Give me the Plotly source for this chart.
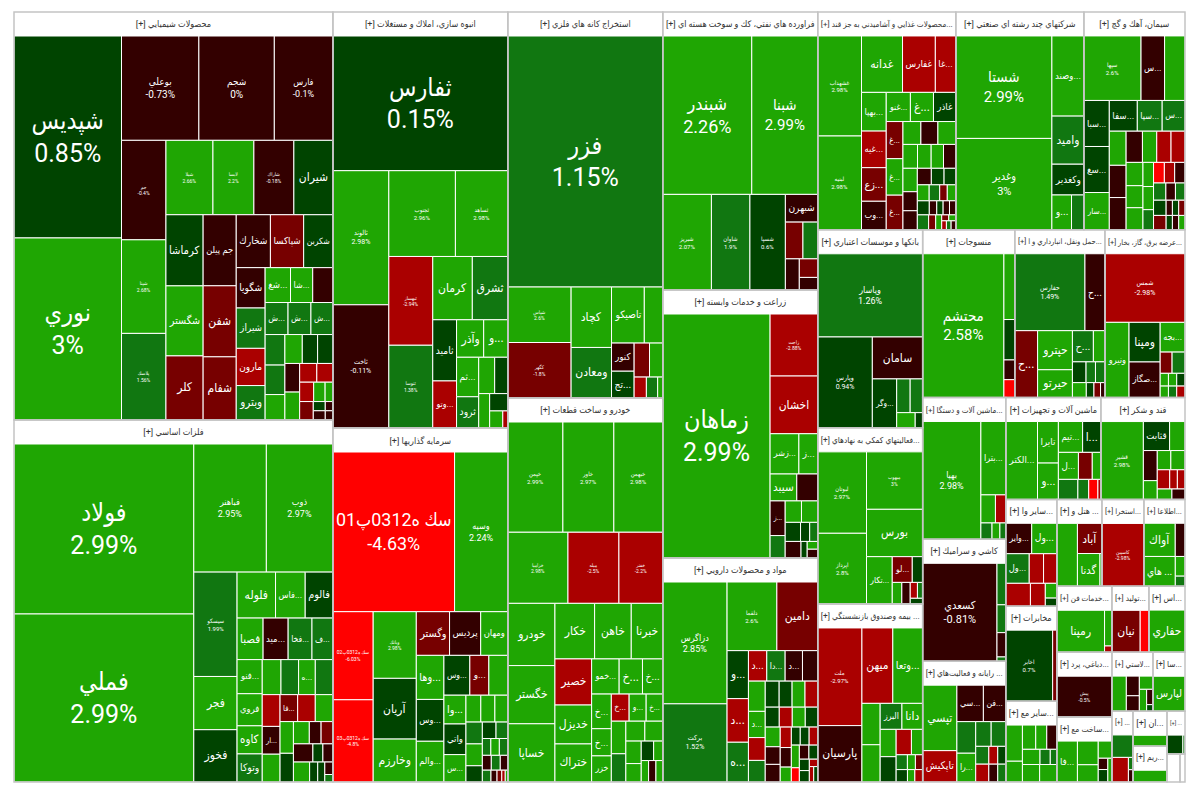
"""Tehran stock exchange market map as a Plotly treemap."""

import plotly.graph_objects as go

SECTORS = [
    "محصولات شيميايي", "فلزات اساسي", "انبوه سازي، املاك و مستغلات", "سرمايه گذاريها",
    "استخراج كانه هاي فلزي", "خودرو و ساخت قطعات", "فراورده هاي نفتي، كك و سوخت هسته اي",
    "زراعت و خدمات وابسته", "مواد و محصولات دارويي", "محصولات غذايي و آشاميدني به جز قند...",
    "شركتهاي چند رشته اي صنعتي", "سيمان، آهك و گچ", "بانكها و موسسات اعتباري",
    "فعاليتهاي كمكي به نهادهاي...", "بيمه وصندوق بازنشستگي ...", "منسوجات",
    "حمل ونقل، انبارداري و ا...", "عرضه برق، گاز، بخار...", "ماشين آلات و دستگا...",
    "كاشي و سراميك", "رايانه و فعاليت‌هاي ...", "ماشين آلات و تجهيزات", "قند و شكر",
    "ساير وا...", "مخابرات", "ساير مع...", "هتل و ...", "خدمات فن...", "استخرا...",
    "دباغي، پرد...", "ساخت مع...", "اطلاعا...", "توليد...", "لاستي...", "اس...", "سا...",
    "...", "ريم...", "ان...", "...", "", "",
]
SECTOR_SIZES = [
    130150, 115480, 72800, 61950, 59830, 59520, 43090, 41540, 34720, 30080, 27900, 22020,
    20790, 18480, 18690, 15460, 15120, 13440, 11790, 10130, 10040, 9690, 8570, 5460, 4850,
    4130, 3915, 3630, 3650, 3575, 3575, 3570, 2440, 2420, 2380, 1890, 1490, 1220, 1190, 770, 364, 140,
]
HEADER_SIZES = [
    7660, 7660, 4200, 4200, 3720, 3720, 3720, 3720, 3720, 3310, 3070, 2420, 2520, 2520, 2520, 2210, 2160, 1920,
    1990, 1990, 1990, 2280, 2020, 1220, 1220, 1220, 1080, 1320, 1010, 1320, 1320, 980, 890, 980, 860, 770,
    500, 820, 820, 430, 0, 0,
]

LABELS = [
    ["شپديس", "نوري", "بوعلي", "شجم", "فارس", "جم", "شپنا", "پلاسك", "شيلا", "لابسا", "شاراك", "شيران",
     "كرماشا", "شگستر", "كلر", "جم پيلن", "شفن", "شفام", "شخارك", "شپاكسا", "شكربن", "شگويا", "شيراز",
     "مارون", "وبترو", "شغ...", "شا...", "", "ش...", "ش...", "ش...", "", "", "", "", "", "", "", "",
     "", "", "", "", "", "", "", "", "", ""],
    ["فولاد", "فملي", "فباهنر", "ذوب", "سيسكو", "فجر", "فخوز", "فلوله", "فاس...", "فالوم", "فصبا",
     "ميد...", "فخا...", "ف...", "فنو...", "فروي", "كاوه", "وتوكا", "", "", "ه...", "", "", "ار...", "",
     "فا...", "", "", "", "", "", "", "", "", "", "", "", "", "", "", ""],
    ["ثفارس", "ثالوند", "ثاخت", "ثجنوب", "ثساهد", "ثبهساز", "ثنوسا", "كرمان", "ثشرق", "ثاميد", "وتو...",
     "وآذر", "و...", "ثم...", "ثرود", "", "", "", "", "", ""],
    ["سك ه0312پ01", "وسپه", "سك ه0312پ02", "سك ه0312پ03", "وبانك", "آريان", "وخارزم", "وگستر", "پرديس",
     "ومهان", "وها...", "وس...", "والم...", "وس...", "و...", "", "وا...", "واتي", "س...", "", "", "", "",
     "", "", "", "", "", "", "", "", "", "", "", "", "", "", ""],
    ["فزر", "شپاس", "كگهر", "كچاد", "ومعادن", "تاصيكو", "", "كنور", "تج...", "", "", "", "", ""],
    ["خپمن", "خاور", "خبهمن", "خزاميا", "ميله", "خفنر", "خودرو", "خگستر", "خساپا", "خكار", "خاهن", "خبرنا",
     "خصير", "خديزل", "ختراك", "خمو...", "خ...", "خ...", "خ...", "خ...", "خزر", "خ...", "و...", "خ...",
     "", "", "", "", "", "", "", "", "", "", ""],
    ["شبندر", "شبنا", "شبريز", "شاوان", "شسپا", "شبهرن", "", "", "", "", ""],
    ["زماهان", "زاجت", "اخشان", "زشر...", "ز...", "سيبد", "", "ز...", "", "", "", "", "", "", "", "", "", ""],
    ["دزاگرس", "بركت", "دلقما", "دامين", "و...", "د...", "ه...", "د...", "دا...", "د...", "", "", "د...",
     "", "", "", "", "", "", "", "", "", "", "", "", "", "", "", "", "", "", "", "", "", "", "", "", "",
     "", "", ""],
    ["غشهداب", "لبنيه", "غدانه", "غفارس", "غا...", "بهپا...", "غنو...", "غ...", "غاذر", "غيه...", "زع...",
     "وب...", "غ...", "غ...", "غ...", "", "", "", "", "", "", "", "", "", "", "", "", "", "", "", "", "",
     "", "", "", "", "", "", "", "", "", "", "", "", ""],
    ["شستا", "وغدير", "وصند...", "واميد", "وكغدير", "و...", ""],
    ["سپها", "س...", "", "سبا...", "سغ...", "سار...", "سفا...", "سپا...", "س...", "", "", "", "", "", "",
     "", "", "", "", "", "", "", "", "", "", "", "", "", "", "", "", "", "", "", "", ""],
    ["وپاسار", "وپارس", "سامان", "وگر...", "", "", "", ""],
    ["لبوتان", "اپرداز", "ميهوب", "بورس", "تكار...", "لو...", "", "", "", "", "", ""],
    ["ملت", "پارسيان", "ميهن", "وتعا...", "", "", "البرز", "دانا", "", "", "", "", "", "", "", "", "", ""],
    ["محتشم", "", "", "", ""],
    ["حفارس", "ح...", "ح...", "حپترو", "حيرتو", "ح...", "", "", "", "", "", "", "", ""],
    ["شمس", "ونيرو", "ومپنا", "صگاز...", "بجه...", "", "", "", "", "", "", "", ""],
    ["بهپا", "بترا...", "", "", "", "", ""],
    ["كسعدي", "", "", "", ""],
    ["تپسي", "تاپكيش", "سي...", "فن...", "", "", "", "را...", "", "", "", "", "", ""],
    ["الكتر...", "تايرا", "و...", "تيم...", "ا...", "ل...", "", "", "", "", "", ""],
    ["قشير", "قثابت", "", "", "", "", "", "", "", "", "", ""],
    ["واير...", "ول...", "ول...", "", "", "", "", "", ""],
    ["اخابر", ""],
    ["", "", "", "", "", "", "", "", "", ""],
    ["", "آباد", "گدنا", ""],
    ["رمپنا", "", ""],
    ["كاسپين"],
    ["پيش"],
    ["فا...", "", "", "", "", "", ""],
    ["آواك", "هاي ...", "", "", ""],
    ["نيان", ""],
    ["", "", "", "", "", "", ""],
    ["حفاري"],
    ["لپارس"],
    ["", "", "", ""],
    [""],
    [""],
    ["", ""],
    [""],
    [""],
]

CHANGES = [
    [0.85, 3, -0.73, 0, -0.1, -0.4, 2.68, 1.56, 2.66, 2.2, -0.18, 0.5, 0.5, 2.5, -1.5, -0.5, -1.5, -1.5, -0.5,
     -1.5, 0.5, -0.5, 1.5, -2.5, 1.5, 2.5, 2.5, -0.5, 1.5, 1.5, 1.5, 1.5, 1.5, 2.5, 2.5, 0.5, 0.5, -0.5, 2.5,
     -2.5, -2.5, -2.5, 2.5, 2.5, -1.5, 0.5, -0.5, -0.5, -0.5],
    [2.99, 2.99, 2.95, 2.97, 1.99, 2.5, 0.5, 2.5, 2.5, 0.5, 2.5, -0.5, 1.5, 1.5, 2.5, 2.5, 2.5, 1.5, 2.5, 1.5,
     2.5, 1.5, -2.5, -0.5, 2.5, -1.5, -2.5, 2.5, 2.5, 0.5, 2.5, -0.5, -1.5, -0.5, 0.5, -0.5, 2.5, 0.5, 0.5, -0.5, 1.5],
    [0.15, 2.98, -0.11, 2.96, 2.98, -2.94, 1.38, 2.5, 1.5, 0.5, -2.5, 2.5, 2.5, 2.5, 1.5, 2.5, 0.5, 2.5, 0.5, 2.5, -2.5],
    [-4.63, 2.24, -6.03, -4.8, 2.98, 0.5, 2.5, -1.8, -0.5, 2.5, 2.5, 0.5, 2.5, 0.5, -1.5, 2.5, 2.5, 0.5, 2.5, 2.5,
     2.5, 2.5, 1.5, 2.5, 0.5, 0.5, 1.5, 1.5, 2.5, 1.5, -0.5, 1.5, -0.5, 1.5, -0.5, -1.5, -2.5, 2.5],
    [1.15, 2.6, -1.8, 2.5, 1.5, 2.5, 2.5, -0.5, 0.5, -1.5, 2.5, -2.5, 1.5, 2.5],
    [2.99, 2.97, 2.98, 2.98, -2.5, -2.2, 2.5, 2.5, 2.5, 2.5, 2.5, 2.5, -2.5, 2.5, 2.5, 2.5, 2.5, 2.5, 2.5, 2.5,
     2.5, -2.5, 2.5, 2.5, 2.5, 1.5, 2.5, 2.5, 2.5, 2.5, 0.5, 2.5, 2.5, -0.5, 2.5],
    [2.26, 2.99, 2.07, 1.9, 0.6, -0.5, -1.5, 1.5, -0.5, -1.5, -0.5],
    [2.99, -2.88, -2.5, 2.5, 2.5, 2.5, -0.5, -0.5, 2.5, 2.5, 1.5, 0.5, 0.5, 1.5, -0.5, 0.5, 2.5, -0.5],
    [2.85, 1.52, 2.6, -1.5, 0.5, -2.5, 1.5, -2.5, 1.5, -0.5, -0.5, 2.5, 2.5, -2.5, 1.5, 0.5, 0.5, 2.5, -2.5, 0.5,
     -2.5, 2.5, 0.5, 2.5, -2.5, -0.5, -0.5, -0.5, 2.5, 0.5, 0.5, -2.5, 2.5, -0.5, 0.5, -4, 0.5, 0.5, -2.5, -2.5, 0.5],
    [2.98, 2.98, 2.5, -2.5, -2.5, 2.5, 2.5, 2.5, 0.5, -2.5, -1.5, -0.5, -1.5, 2.5, -1.5, 2.5, -0.5, 2.5, 2.5, 2.5,
     2.5, -0.5, 2.5, -0.5, -0.5, -0.5, 0.5, 0.5, 2.5, 1.5, -1.5, 2.5, 0.5, -0.5, 0.5, -0.5, -0.5, 1.5, -1.5, 2.5,
     -1.5, 2.5, -2.5, 1.5, -0.5],
    [2.99, 3, 2.5, 1.5, 0.5, 2.5, 1.5],
    [2.6, -0.5, 2.5, 0.5, 0.5, 2.5, 0.5, 1.5, 1.5, 2.5, -0.5, -0.5, -0.5, 2.5, -2.5, -2.5, 2.5, 2.5, 2.5, 2.5, 2.5,
     1.5, -4, -2.5, -0.5, 1.5, -0.5, 1.5, 0.5, -0.5, 0.5, -1.5, -1.5, 0.5, -0.5, 2.5],
    [1.26, 0.94, -0.5, 0.5, 1.5, 1.5, 2.5, 0.5],
    [2.97, 2.8, 3, 2.5, 2.5, -1.5, 0.5, 2.5, -0.5, -2.5, 1.5, 0.5],
    [-2.97, -0.5, -2.5, 2.5, 2.5, 2.5, 1.5, 2.5, 2.5, -2.5, 2.5, 0.5, 1.5, 2.5, -1.5, 0.5, 2.5, -2.5],
    [2.58, 2.5, 0.5, -0.5, -4],
    [1.49, -0.5, -1.5, 2.5, 2.5, 1.5, 2.5, 0.5, 1.5, 1.5, 2.5, 0.5, -1.5, -0.5],
    [-2.98, 2.5, 0.5, -0.5, 2.5, -1.5, 1.5, 2.5, 2.5, 0.5, 2.5, 1.5, -2.5],
    [2.98, 2.5, 2.5, -2.5, 1.5, 2.5, 1.5],
    [-0.81, 1.5, 1.5, -0.5, 1.5],
    [2.5, -2.5, -0.5, -0.5, 1.5, 1.5, 1.5, 2.5, 1.5, -2.5, 0.5, -2.5, -0.5, 1.5],
    [2.5, 2.5, 2.5, 2.5, 0.5, 2.5, -1.5, 2.5, 1.5, 1.5, -4, -2.5],
    [2.98, 0.5, 2.5, -0.5, 2.5, 2.5, 2.5, -2.5, -2.5, -2.5, 2.5, -0.5],
    [-0.5, 2.5, 1.5, -2.5, -2.5, -2.5, -2.5, 2.5, 0.5],
    [0.7, -1.5],
    [2.5, 2.5, 2.5, 2.5, -0.5, 2.5, 1.5, 1.5, 2.5, 2.5],
    [2.5, -1.5, 2.5, 2.5],
    [2.5, 2.5, -2.5],
    [-2.98],
    [-0.5],
    [2.5, 2.5, 2.5, 2.5, -0.5, 0.5, 2.5],
    [2.5, 2.5, -0.5, 2.5, 1.5],
    [-1.5, -4],
    [2.5, -0.5, -0.5, 2.5, 2.5, -0.5, 0.5],
    [2.5],
    [2.5],
    [1.5, -2.5, 1.5, -0.5],
    [2.5],
    [2.5],
    [0.5, 1.5],
    [None],
    [None],
]

WEIGHTS = [
    [21600, 19470, 8030, 7830, 6080, 4400, 4140, 3830, 3480, 3030, 2960, 2890, 2630, 2590, 2370, 2340, 2340, 2080,
     1800, 1750, 1540, 1160, 1160, 1070, 990, 880, 770, 700, 730, 730, 700, 600, 580, 500, 500, 440, 440, 420, 410,
     320, 300, 270, 220, 150, 250, 110, 70, 110, 70],
    [30250, 29900, 9200, 8440, 4470, 2280, 2240, 1750, 1350, 1260, 1070, 1030, 980, 860, 850, 800, 700, 700, 650, 610,
     580, 610, 560, 490, 490, 470, 470, 470, 420, 380, 350, 260, 260, 350, 180, 180, 320, 160, 140, 100, 60],
    [23150, 7370, 6770, 5610, 4420, 3830, 3570, 2460, 2210, 1430, 1100, 1000, 890, 860, 680, 570, 470, 370, 310, 220, 85],
    [19000, 8320, 3470, 3240, 2810, 2560, 1810, 1420, 1330, 1160, 1190, 1130, 1100, 1010, 740, 740, 620, 660, 590, 390,
     370, 340, 350, 350, 260, 220, 190, 140, 140, 140, 130, 130, 110, 100, 70, 55, 40, 30],
    [37900, 3420, 3420, 2380, 1990, 1790, 1010, 620, 590, 510, 440, 250, 230, 105],
    [5780, 5350, 5140, 4070, 3450, 2970, 2790, 2610, 2610, 2100, 1940, 1670, 1610, 1360, 1330, 920, 780, 680, 650, 510,
     490, 460, 440, 430, 450, 390, 360, 340, 330, 270, 230, 170, 150, 150, 140],
    [13970, 10360, 4610, 3650, 3360, 890, 640, 540, 430, 340, 230],
    [25500, 2880, 2680, 1130, 740, 700, 550, 510, 340, 340, 330, 285, 170, 150, 255, 100, 80, 90],
    [7560, 4850, 3300, 2710, 990, 900, 820, 540, 540, 510, 450, 490, 425, 370, 350, 350, 325, 325, 320, 270, 250, 250,
     240, 285, 220, 255, 255, 210, 160, 155, 155, 150, 175, 130, 120, 110, 110, 110, 60, 65, 60],
    [4160, 3900, 2200, 1760, 1100, 910, 670, 640, 620, 860, 790, 670, 590, 580, 550, 390, 370, 390, 330, 310, 280, 280,
     320, 260, 260, 220, 200, 185, 180, 160, 115, 130, 160, 100, 85, 85, 85, 160, 100, 85, 40, 40, 40, 40, 40],
    [9590, 8550, 2500, 1500, 960, 665, 420],
    [3470, 1430, 1240, 1100, 1100, 890, 810, 720, 660, 540, 510, 510, 480, 420, 420, 410, 370, 350, 350, 240, 230, 200,
     210, 200, 200, 200, 155, 155, 180, 90, 90, 90, 170, 85, 85, 85],
    [8060, 4580, 1950, 1100, 420, 390, 260, 105],
    [3850, 3340, 3130, 2580, 1180, 500, 260, 200, 175, 110, 80, 70],
    [4000, 2310, 2160, 2090, 700, 630, 525, 500, 405, 360, 265, 375, 155, 110, 100, 130, 85, 90],
    [11400, 700, 430, 210, 190],
    [4960, 1410, 1400, 1250, 890, 600, 330, 260, 180, 180, 190, 105, 90, 60],
    [5210, 1720, 1170, 1050, 700, 240, 260, 100, 100, 100, 90, 90, 90],
    [6380, 1700, 380, 270, 170, 120, 90],
    [6980, 350, 235, 205, 36],
    [2110, 1010, 910, 770, 560, 360, 340, 510, 220, 150, 135, 220, 150, 135],
    [2280, 800, 700, 690, 520, 500, 345, 215, 360, 200, 170, 55],
    [3040, 700, 410, 385, 240, 250, 240, 220, 135, 135, 140, 125],
    [670, 650, 590, 360, 335, 480, 290, 145, 80],
    [2880, 260],
    [540, 310, 290, 240, 220, 240, 140, 90, 270, 270],
    [1120, 640, 640, 55],
    [1750, 230, 40],
    [2350],
    [2060],
    [750, 440, 210, 320, 95, 105, 90],
    [900, 810, 280, 165, 85],
    [1120, 345],
    [365, 185, 145, 130, 115, 70, 30],
    [1470],
    [840],
    [420, 360, 50, 50],
    [330],
    [330],
    [270, 36],
    [364],
    [140],
]

# tickers whose change is printed under the name
PCT_SHOWN = [
    "شپديس", "نوري", "بوعلي", "شجم", "فارس", "جم", "شپنا", "پلاسك", "شيلا", "لابسا", "شاراك", "فولاد", "فملي", "فباهنر",
    "ذوب", "سيسكو", "ثفارس", "ثالوند", "ثاخت", "ثجنوب", "ثساهد", "ثبهساز", "ثنوسا", "سك ه0312پ01", "وسپه", "سك ه0312پ02",
    "سك ه0312پ03", "وبانك", "فزر", "شپاس", "كگهر", "خپمن", "خاور", "خبهمن", "خزاميا", "ميله", "خفنر", "شبندر", "شبنا",
    "شبريز", "شاوان", "شسپا", "زماهان", "زاجت", "دزاگرس", "بركت", "دلقما", "غشهداب", "لبنيه", "شستا", "وغدير", "سپها",
    "وپاسار", "وپارس", "لبوتان", "اپرداز", "ميهوب", "ملت", "محتشم", "حفارس", "شمس", "بهپا", "كسعدي", "قشير", "اخابر",
    "كاسپين", "پيش",
]

FONT_SIZES = {
    25: ["شپديس", "نوري", "فولاد", "فملي", "ثفارس", "فزر", "زماهان", "سك ه0312پ01"],
    18: ["شبندر"], 15: ["شبنا", "شستا", "محتشم"], 11: ["وغدير", "كسعدي"], 10: ["بوعلي", "شجم"],
    9: ["فارس", "فباهنر", "ذوب", "دزاگرس", "وسپه", "بهپا", "وپاسار"],
    7: ["ثالوند", "ثاخت", "شمس", "حفارس", "بركت", "وپارس"],
    6: ["ثجنوب", "ثساهد", "خپمن", "خاور", "خبهمن", "شبريز", "شاوان", "شسپا", "غشهداب", "لبنيه", "لبوتان", "اپرداز", "ملت",
        "قشير", "اخابر", "سپها", "دلقما", "سيسكو"],
    5: ["جم", "شپنا", "پلاسك", "شيلا", "لابسا", "شاراك", "ثبهساز", "ثنوسا", "سك ه0312پ02", "سك ه0312پ03", "وبانك", "شپاس",
        "كگهر", "خزاميا", "ميله", "خفنر", "زاجت", "ميهوب", "كاسپين", "پيش"],
}
SIZE_OF = {name: size for size, names in FONT_SIZES.items() for name in names}
FONT = "Roboto, DejaVu Sans Condensed, DejaVu Sans"


def h(*kids):
    return ("h", kids)


def v(*kids):
    return ("v", kids)


def nest(kind, *levels):
    """Each level holds its own cells and then the next level, direction flips per level."""
    kinds = [kind if i % 2 == 0 else ("v" if kind == "h" else "h") for i in range(len(levels))]
    node = None
    for level_kind, level in zip(reversed(kinds), reversed(levels)):
        kids = list(level) + ([node] if node is not None else [])
        node = (level_kind, tuple(kids))
    return node


# how the cells of each sector nest, same order as SECTORS
SPLITS = [
    nest("h", [v(0, 1)], [h(2, 3, 4)], [v(5, 6, 7)], [h(8, 9, 10, 11)], [v(12, 13, 14), v(15, 16, 17)], [h(18, 19, 20)],
         [v(21, 22, 23, 24)], [h(25, 26, 27), h(28, 29, 30)], [v(31, 32, 33)], [h(34, 35, 36)], [v(37, 38)],
         [h(39, 40), h(41, 42, 43)], [44], [h(45, 46), h(47, 48)]),
    nest("h", [v(0, 1)], [h(2, 3)], [v(4, 5, 6)], [h(7, 8, 9), h(10, 11, 12, 13)], [v(14, 15, 16, 17)],
         [h(18, 19, 20, 21)], [v(22, 23, 24)], [h(25, 26, 27)], [v(28, 29)],
         [h(30, 31, 32), h(33, 34, 35), h(36, 37, 38, v(39, 40))]),
    nest("v", [0], [v(1, 2)], [h(3, 4)], [v(5, 6)], [h(7, 8)], [v(9, 10)], [h(11, 12)], [v(13, 14)], [h(15, 16)], [17],
         [18, h(19, 20)]),
    nest("v", [h(0, 1)], [v(2, 3), v(4, 5, 6)], [h(7, 8, 9)], [v(10, 11, 12)], [h(13, 14, 15)], [v(16, 17, 18)],
         [h(19, 20, 21)], [v(22, 23, 24)], [h(25, 26), h(27, 28, 29), h(30, 31, 32), h(33, 34, 35, 36, 37)]),
    nest("v", [0], [v(1, 2), v(3, 4)], [h(5, 6)], [v(7, 8)], [h(9, 10), h(11, 12, 13)]),
    nest("v", [h(0, 1, 2), h(3, 4, 5)], [v(6, 7, 8)], [h(9, 10, 11)], [v(12, 13, 14)], [h(15, 16, 17)], [v(18, 19, 20)],
         [h(21, 22, 23)], [v(24, 25)], [h(26, 27)], [v(28, 29)], [h(30, 31), h(32, 33, 34)]),
    nest("v", [h(0, 1)], [2, 3, 4], [5, h(6, 7)], [8], [9, 10]),
    nest("h", [0], [1, 2, h(3, 4), h(5, 6)], [v(7, 10)], [h(8, 9), h(11, 12, 13)], [14, 15], [16, 17]),
    nest("h", [v(0, 1)], [h(2, 3)], [v(4, 5, 6)], [h(7, 8, 9, 10)], [v(11, 12, 13, 14)],
         [h(15, 16, 17, 18), h(19, 20, 21, 22)], [v(23, 25, 26), v(24, 27, 28)], [h(29, 30, 31)], [v(32, 35)],
         [h(33, 34)], [v(36, 37)], [38, h(39, 40)]),
    nest("h", [v(0, 1)], [h(2, 3, 4)], [v(5, 9, 10, 11)], [h(6, 7, 8)], [v(12, 13, 14)],
         [h(15, 16, 17), h(18, 19, 20, 21)], [v(22, 23, 24)], [h(25, 26, 27), h(28, 29, 30, 31), h(32, 33, 34, 35, 36)],
         [37, 38, 39], [h(40, 41), h(42, 43, 44)]),
    h(v(0, 1), v(2, 3, 4, h(5, 6))),
    nest("v", [h(0, 1, 2)], [v(3, 4, 5)], [h(6, 7, 8)], [v(9, 10, 11)], [h(12, 13, 14, 15)], [v(16, 17, 18), v(19, 20, 21)],
         [h(22, 23, 24), h(25, 26, 27), h(28, 29, 30, 31), h(32, 33, 34, 35)]),
    nest("v", [0], [1], [2], [3], [h(4, 5), h(6, 7)]),
    nest("h", [v(0, 1)], [2, 3], [4], [h(5, 6)], [7, 8], [h(9, 10), 11]),
    nest("h", [v(0, 1)], [h(2, 3)], [v(4, 5)], [h(6, 7)], [v(8, 11)], [h(9, 10), h(12, 13, 14), h(15, 16, 17)]),
    h(0, v(1, 2, 3, 4)),
    nest("v", [h(0, 1)], [2, v(3, 4)], [h(5, 6), h(7, 8, 9), h(10, 11, 12, 13)]),
    nest("v", [0], [1, v(2, 3)], [4, h(5, 6), h(7, 8, 9), h(10, 11, 12)]),
    nest("h", [0], [1, h(2, 3), h(4, 5, 6)]),
    h(0, v(1, 2, 3, 4)),
    nest("h", [v(0, 1)], [h(2, 3)], [v(4, 7)], [h(5, 6), h(8, 9, 10), h(11, 12, 13)]),
    nest("h", [0, v(1, 2)], [h(3, 4), h(5, 6, 7), h(8, 9, 10, 11)]),
    nest("h", [0], [h(1, 2)], [v(3, 6)], [h(4, 5), h(7, 8, 9), h(10, 11)]),
    v(h(0, 1), h(2, 3, 4), h(5, 6, v(7, 8))),
    h(0, 1),
    h(v(0, 1), v(h(2, 3, 4), h(5, 6, 7), h(8, 9))),
    h(0, v(1, h(2, 3))),
    h(0, v(1, 2)),
    0,
    0,
    h(0, v(1, 3), v(2, h(v(4, 5), 6))),
    v(h(0, 2), h(1, v(3, 4))),
    h(0, 1),
    h(0, v(1, 2), v(3, h(4, v(5, 6)))),
    0,
    0,
    v(0, h(1, v(2, 3))),
    0,
    0,
    h(0, 1),
    0,
    0,
]

# how the sectors themselves sit on the page
BOARD = nest(
    "h", [v(0, 1), v(2, 3), v(4, 5), v(6, 7, 8)], [h(9, 10, 11)], [v(12, 13, 14)], [h(15, 16, 17)], [v(18, 19, 20)],
    [h(21, 22)], [v(23, 24, 25)], [h(26, 28, 31), h(27, 32, 34)], [v(29, 30)], [h(33, 35)],
    [36, v(38, 37), v(39, h(40, 41))],
)


def change_color(change):
    if change is None:
        return "#ffffff"
    if change < -3:
        return "#ff0000"
    if change < -2:
        return "#aa0000"
    if change < -1:
        return "#770000"
    if change <= 0:
        return "#330000"
    if change < 1:
        return "#004400"
    if change < 2:
        return "#117711"
    return "#1fa603"


class Nodes:
    """Flat treemap columns, filled while walking the nested splits."""

    def __init__(self):
        self.rows = []

    def add(self, parent, label=" ", value=0, color="rgba(0,0,0,0)", size=1, font_color="#ffffff",
            line_color="#ffffff", line_width=0):
        node_id = f"n{len(self.rows)}"
        self.rows.append(dict(id=node_id, parent=parent, label=label, value=value, color=color, size=size,
                              font_color=font_color, line_color=line_color, line_width=line_width))
        return node_id

    def column(self, key):
        return [row[key] for row in self.rows]


def walk(nodes, node, parent, depth, on_leaf):
    # slice-dice packing: even depths split sideways, odd depths split downwards
    if isinstance(node, int):
        on_leaf(node, parent, depth)
        return
    kind, kids = node
    if kind != ("h" if depth % 2 == 0 else "v"):
        parent = nodes.add(parent)
        depth += 1
    node_id = nodes.add(parent)
    for kid in kids:
        walk(nodes, kid, node_id, depth + 1, on_leaf)


cells = Nodes()


def add_sector(s, parent, depth):
    if depth % 2 == 0:
        parent = cells.add(parent)
        depth += 1
    sector_id = cells.add(parent)
    body_size = SECTOR_SIZES[s] - HEADER_SIZES[s]
    total = sum(WEIGHTS[s])
    if SECTORS[s]:
        cells.add(sector_id, f"[+] {SECTORS[s]}", HEADER_SIZES[s], "#ffffff", 9, "#333333", "#ffffff", 0)

    def add_cell(i, cell_parent, cell_depth):
        name = LABELS[s][i]
        change = CHANGES[s][i]
        label = f"{name}<br>{change:g}%" if name in PCT_SHOWN else (name or " ")
        cells.add(cell_parent, label, WEIGHTS[s][i] / total * body_size, change_color(change),
                  SIZE_OF.get(name, 12), "#ffffff", "#ffffff", 1)

    walk(cells, SPLITS[s], sector_id, depth + 1, add_cell)


walk(cells, BOARD, "", 0, add_sector)

outlines = Nodes()


def add_outline(s, parent, depth):
    outlines.add(parent, " ", SECTOR_SIZES[s], "rgba(0,0,0,0)", 1, "#ffffff", "#c4c4c4", 1.5)


walk(outlines, BOARD, "", 0, add_outline)

fig = go.Figure()

for nodes, textinfo in ((cells, "label"), (outlines, "none")):
    fig.add_trace(go.Treemap(
        ids=nodes.column("id"),
        parents=nodes.column("parent"),
        labels=nodes.column("label"),
        values=nodes.column("value"),
        branchvalues="remainder",
        sort=False,
        textinfo=textinfo,
        textposition="middle center",
        textfont=dict(family=FONT, size=nodes.column("size"), color=nodes.column("font_color")),
        marker=dict(
            colors=nodes.column("color"),
            line=dict(color=nodes.column("line_color"), width=nodes.column("line_width")),
            pad=dict(t=0, l=0, r=0, b=0),
        ),
        tiling=dict(packing="slice-dice", pad=0),
        pathbar=dict(visible=False),
        hoverinfo="skip",
    ))

fig.update_layout(
    width=1200,
    height=800,
    margin=dict(l=6, r=23, t=4, b=26),
    paper_bgcolor="#ffffff",
    font=dict(family=FONT),
)

fig.write_html("out.html")
